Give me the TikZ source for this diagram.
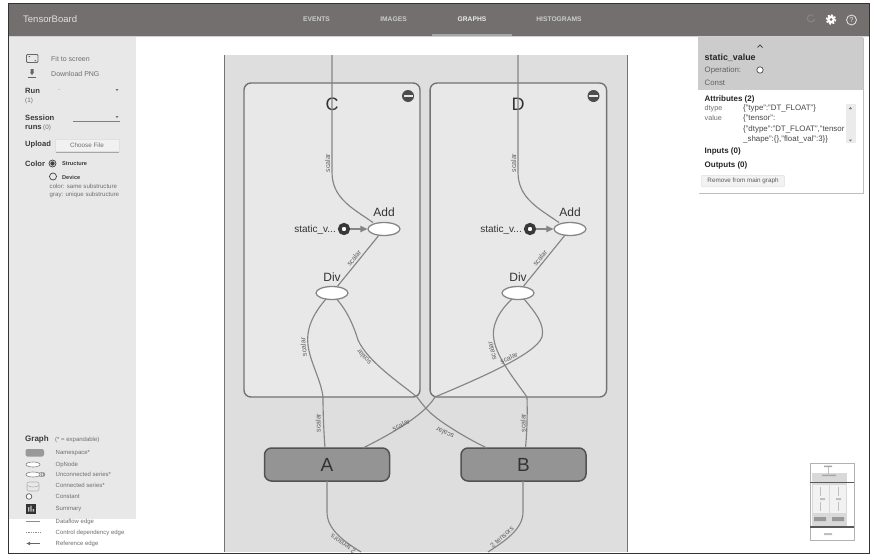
\documentclass[tikz,border=0pt]{standalone}
\usepackage{fontspec}
\setmainfont{Liberation Sans}
\usetikzlibrary{shapes.geometric,arrows.meta}
\newcommand{\fsz}[1]{\fontsize{#1}{#1}\selectfont}
\definecolor{hdr}{HTML}{736F6F}
\definecolor{side}{HTML}{E8E8E8}
\definecolor{col}{HTML}{DEDEDE}
\definecolor{boxf}{HTML}{E8E8E8}
\definecolor{boxl}{HTML}{737373}
\definecolor{edgec}{HTML}{858585}
\definecolor{nsf}{HTML}{949494}
\definecolor{tx}{HTML}{3A3A3A}
\definecolor{tl}{HTML}{6E6E6E}
\tikzset{
  txt/.style={inner sep=0pt,text=tl,font=\fsz{7}},
  ltxt/.style={txt,anchor=west},
  head/.style={inner sep=0pt,anchor=west,text=tx,font=\fsz{7.6}\bfseries},
  tab/.style={inner sep=0pt,text=#1,font=\fsz{6.7}\bfseries},
  group/.style={draw=boxl,line width=1.4pt,fill=boxf,rounded corners=7pt,inner sep=0pt},
  ns/.style={draw=black!68,line width=1.5pt,fill=nsf,rounded corners=7pt,inner sep=0pt,minimum width=125pt,minimum height=33pt,text=black!80,font=\fsz{19}},
  op/.style={ellipse,draw=edgec,line width=1.3pt,fill=white,inner sep=0pt,minimum width=32pt,minimum height=13pt},
  const/.style={circle,draw=black!78,line width=3.6pt,fill=white,inner sep=0pt,minimum size=8.5pt},
  edge/.style={draw=edgec,line width=1.15pt},
  elab/.style={inner sep=0pt,text=black!62,font=\fsz{7}},
  gname/.style={inner sep=0pt,text=black!80,font=\fsz{18}},
  oname/.style={inner sep=0pt,text=black!80,font=\fsz{12}},
  minus/.style={circle,fill=black!70,inner sep=0pt,minimum size=12pt}
}
\begin{document}
\begin{tikzpicture}[x=1pt,y=-1pt]
\useasboundingbox (0,0) rectangle (879,557);
\fill[white] (0,0) rectangle (879,557);
% graph column
\fill[col] (224,55) rectangle (627,552);
\draw[black!55,line width=.8pt] (224,55) -- (224,552) (627,55) -- (627,552);
% sidebar and header
\fill[side] (9,36) rectangle (136,519);
\fill[hdr] (9,4) rectangle (869,36);
\fill[black!18] (9,36) rectangle (869,37);
\fill[black!35] (432,34) rectangle (512,35.5);
\node[inner sep=0pt,anchor=west,text=white!88!black,font=\fsz{9.5}] (tb) at (23,19) {TensorBoard};
\node[tab=white!80!black] (t1) at (316.5,19) {EVENTS};
\node[tab=white!80!black] (t2) at (393.5,19) {IMAGES};
\node[tab=white!92!black] (t3) at (472,19) {GRAPHS};
\node[tab=white!80!black] (t4) at (559,19) {HISTOGRAMS};
% header icons
\draw[hdr!85!white,line width=1pt] (814.5,19) arc (10:310:3.6);
\fill[white] (831,19.5) circle (3.9);
\draw[white,line width=1.5pt,dash pattern=on 1.9pt off 1.65pt] (831,19.5) circle (4.6);
\fill[hdr] (831,19.5) circle (1.5);
\node[circle,draw=white!90!black,line width=.8pt,inner sep=0pt,minimum size=10pt,text=white!90!black,font=\fsz{7}] (help) at (851.5,20) {?};
% sidebar
\draw[black!60,line width=.8pt,rounded corners=1pt] (26.5,54.5) rectangle (38,62.5);
\fill[black!60] (28.5,56) rectangle (30,57) (34.5,60) rectangle (36,61);
\fill[black!60] (30.5,69) rectangle (33.5,72.5) (30,72.5) -- (32,75) -- (34,72.5) -- cycle;
\fill[black!60] (28,76.5) rectangle (36,77.5);
\node[ltxt] (s1) at (51,58.5) {Fit to screen};
\node[ltxt] (s2) at (51,73.5) {Download PNG};
\node[head] (run) at (25,90.5) {Run};
\node[ltxt,font=\fsz{6.3}] (run1) at (25,100.5) {(1)};
\node[ltxt] (dot) at (58,90) {.};
\fill[black!55] (115.5,89) -- (118.5,89) -- (117,91) -- cycle;
\node[head] (ses) at (25,117.5) {Session};
\node[head] (rns) at (25,127.5) {runs};
\node[ltxt,font=\fsz{6.3}] (rn0) at (43,128) {(0)};
\fill[black!55] (115.5,116) -- (118.5,116) -- (117,118) -- cycle;
\draw[black!50,line width=.8pt] (73,121.5) -- (120,121.5);
\node[head] (upl) at (25,145) {Upload};
\node[draw=black!12,fill=side!60!white,line width=.6pt,minimum width=64pt,minimum height=12pt,inner sep=0pt,text=tl,font=\fsz{6.3}] (cf) at (87,145.5) {Choose File};
\draw[black!35] (55.5,151.8) -- (119,151.8);
\node[head] (colr) at (25,163.5) {Color};
\node[circle,draw=black!75,line width=.7pt,minimum size=7pt,inner sep=0pt] (r1) at (52.5,163.5) {};
\fill[black!75] (r1) circle (2.2);
\node[inner sep=0pt,anchor=west,text=tx,font=\fsz{5.6}\bfseries] (r1t) at (62,164) {Structure};
\node[circle,draw=black!75,line width=.7pt,minimum size=7pt,inner sep=0pt] (r2) at (53,176.5) {};
\node[inner sep=0pt,anchor=west,text=tx,font=\fsz{5.6}\bfseries] (r2t) at (62,177) {Device};
\node[ltxt,font=\fsz{6.1}] (c1) at (49.5,186.5) {color: same substructure};
\node[ltxt,font=\fsz{6.1}] (c2) at (49.5,194.5) {gray: unique substructure};
% legend
\node[head,font=\fsz{8}\bfseries] (lg) at (25,439) {Graph};
\node[ltxt,font=\fsz{6}] (lg1) at (55,439.5) {(* = expandable)};
\node[ltxt,font=\fsz{6}] (l1) at (55.5,453.5) {Namespace*};
\node[ltxt,font=\fsz{6}] (l2) at (55.5,464.5) {OpNode};
\node[ltxt,font=\fsz{6}] (l3) at (55.5,474.5) {Unconnected series*};
\node[ltxt,font=\fsz{6}] (l4) at (55.5,485.5) {Connected series*};
\node[ltxt,font=\fsz{6}] (l5) at (55.5,496.5) {Constant};
\node[ltxt,font=\fsz{6}] (l6) at (55.5,509) {Summary};
\node[ltxt,font=\fsz{6}] (l7) at (55.5,521.5) {Dataflow edge};
\node[ltxt,font=\fsz{6}] (l8) at (55.5,532.5) {Control dependency edge};
\node[ltxt,font=\fsz{6}] (l9) at (55.5,543.5) {Reference edge};
\fill[black!40,rounded corners=2pt] (25.5,449) rectangle (44,456.5);
\draw[black!50,line width=.6pt,fill=white] (33,464.5) ellipse (7 and 2.5);
\draw[black!45,line width=.6pt] (41,474.5) ellipse (3 and 2) (43,474.5) ellipse (1.8 and 2);
\draw[black!50,line width=.6pt,fill=white] (33,474.5) ellipse (7 and 2.5);
\draw[black!30,line width=.6pt,rounded corners=2pt,fill=side] (27,482) rectangle (39,491);
\draw[black!30,line width=.6pt] (27,485.5) .. controls (30,487.5) and (36,487.5) .. (39,485.5);
\draw[black!65,line width=.7pt,fill=white] (29,496.5) circle (2.8);
\fill[black!80] (26,504) rectangle (36,514);
\fill[white!75!black] (28,511.5) rectangle (29.3,507) (30.3,511.5) rectangle (31.6,505.5) (32.6,511.5) rectangle (34,509);
\draw[black!45,line width=.7pt] (26,521.7) -- (40,521.7);
\draw[black!45,line width=.7pt,densely dotted] (26,532.5) -- (40,532.5);
\draw[black!60,line width=.7pt,-{Latex[length=4pt,width=3.5pt]}] (40,543.5) -- (26,543.5);
% groups
\node[group,minimum width=176pt,minimum height=314pt] (C) at (332,240) {};
\node[group,minimum width=176.5pt,minimum height=314pt] (D) at (518.3,240) {};
\node[gname] (Cl) at (332,104) {C};
\node[gname] (Dl) at (518,104) {D};
\node[minus] (Cm) at (408,96) {};
\fill[boxf] (403.5,95) rectangle (412.5,97);
\node[minus] (Dm) at (593.5,96) {};
\fill[boxf] (589,95) rectangle (598,97);
% ops
\node[op] (addC) at (384,229) {};
\node[op] (divC) at (332,293) {};
\node[op] (addD) at (570,229) {};
\node[op] (divD) at (518,293) {};
\node[oname] (addCl) at (384,212) {Add};
\node[oname] (divCl) at (332,277) {Div};
\node[oname] (addDl) at (570,212) {Add};
\node[oname] (divDl) at (518,277) {Div};
\node[const] (sC) at (344,229) {};
\node[const] (sD) at (530,229) {};
\node[inner sep=0pt,anchor=east,text=black!80,font=\fsz{10}] (sCl) at (336,229.5) {static\_v...};
\node[inner sep=0pt,anchor=east,text=black!80,font=\fsz{10}] (sDl) at (522,229.5) {static\_v...};
% name spaces
\node[ns] (A) at (327,464.5) {A};
\node[ns] (B) at (523.5,464.5) {B};
% free ends
\coordinate (topC) at (332,55);
\coordinate (topD) at (518,55);
\coordinate (botA) at (361,552);
\coordinate (botB) at (488,552);
\coordinate (bl) at (327,481);
\coordinate (br) at (523,481);
% edges
\begin{scope}[edge]
\draw (topC) -- (332,172) .. controls (332,198) and (352,208) .. (373,222.5);
\draw (topD) -- (518,172) .. controls (518,198) and (538,208) .. (559,222.5);
\draw[-{Triangle[length=7pt,width=6.5pt]}] (sC) -- (addC);
\draw[-{Triangle[length=7pt,width=6.5pt]}] (sD) -- (addD);
\draw (addC) -- (divC);
\draw (addD) -- (divD);
\draw (326,299) .. controls (312,315) and (306,330) .. (308,345) .. controls (310,362) and (321,380) .. (323,397) .. controls (323,415) and (324,435) .. (325,448);
\draw (337,299.5) .. controls (348,312) and (354,327) .. (358,340) .. controls (368,362) and (400,383) .. (417,397) .. controls (425,408) and (430,413) .. (438,419) .. controls (450,428) and (470,440) .. (487,448);
\draw (512,299) .. controls (498,312) and (491,327) .. (494,340) .. controls (497,358) and (515,380) .. (527,397) .. controls (527.5,415) and (527,432) .. (525.5,448);
\draw (524,299) .. controls (535,312) and (545,324) .. (542,337) .. controls (536,354) and (480,378) .. (435,397) .. controls (425,414) and (395,432) .. (363,448);
\draw (bl) -- (327,512) .. controls (327,530) and (345,542) .. (botA);
\draw (br) -- (523,512) .. controls (523,530) and (503,542) .. (botB);
\end{scope}
% edge labels
\node[elab,rotate=90] (e1) at (327.5,163) {scalar};
\node[elab,rotate=90] (e2) at (513.5,163) {scalar};
\node[elab,rotate=52] (e3) at (354,258) {scalar};
\node[elab,rotate=52] (e4) at (540,258) {scalar};
\node[elab,rotate=95] (e5) at (303.5,347) {scalar};
\node[elab,rotate=130] (e6) at (364,357) {scalar};
\node[elab,rotate=104] (e7) at (492,351) {scalar};
\node[elab,rotate=25] (e8) at (509,358) {scalar};
\node[elab,rotate=90] (e9) at (318,423) {scalar};
\node[elab,rotate=25] (e10) at (401,425) {scalar};
\node[elab,rotate=155] (e11) at (445,433) {scalar};
\node[elab,rotate=90] (e12) at (523,423) {scalar};
\node[elab,rotate=42] (e13) at (502,537) {2 tensors};
\begin{scope}
\clip (224,500) rectangle (627,552);
\node[elab,rotate=145] (e14) at (343,544) {2 tensors};
\end{scope}
% info card
\fill[black!25] (698.8,38) rectangle (864,194.3);
\fill[white] (698,37) rectangle (863,193);
\fill[black!20] (698,37) rectangle (863,90);
\draw[black!70,line width=.8pt] (757.5,47.5) -- (760,45) -- (762.5,47.5);
\node[inner sep=0pt,anchor=west,text=black!85,font=\fsz{8.9}\bfseries] (i1) at (704.5,58) {static\_value};
\node[inner sep=0pt,anchor=west,text=black!62,font=\fsz{7.8}] (i2) at (704.5,70.5) {Operation:};
\draw[black!70,line width=.7pt,fill=white] (760,70) circle (3.2);
\node[inner sep=0pt,anchor=west,text=black!62,font=\fsz{7.8}] (i3) at (704.5,82.5) {Const};
\node[inner sep=0pt,anchor=west,text=black!85,font=\fsz{8}\bfseries] (i4) at (704.5,99) {Attributes (2)};
\node[ltxt,font=\fsz{7.2}] (i5) at (704.5,108.5) {dtype};
\node[ltxt,font=\fsz{7.2}] (i6) at (704.5,118) {value};
\fill[black!8] (846,104) rectangle (855.5,143);
\begin{scope}[every node/.style={inner sep=0pt,anchor=west,text=black!72,font=\fsz{7.9}}]
\node (v1) at (743,108.5) {\{"type":"DT\_FLOAT"\}};
\node (v2) at (743,118.5) {\{"tensor":};
\node (v3) at (743,129) {\{"dtype":"DT\_FLOAT","tensor};
\node (v4) at (743,139) {\_shape":\{\},"float\_val":3\}\}};
\end{scope}
\fill[black!55] (848.8,109) -- (852,109) -- (850.4,107) -- cycle;
\fill[black!55] (848.8,139.5) -- (852,139.5) -- (850.4,141.5) -- cycle;
\node[inner sep=0pt,anchor=west,text=black!85,font=\fsz{8}\bfseries] (i7) at (704.5,151.5) {Inputs (0)};
\node[inner sep=0pt,anchor=west,text=black!85,font=\fsz{8}\bfseries] (i8) at (704.5,165.5) {Outputs (0)};
\node[fill=black!5,draw=black!12,line width=.5pt,rounded corners=1pt,minimum width=83pt,minimum height=11.5pt,inner sep=0pt,text=black!65,font=\fsz{6.3}] (i9) at (743,181) {Remove from main graph};
% minimap
\draw[black!30,line width=.7pt,fill=white] (810,463) rectangle (854,540);
\fill[black!15] (812,473) rectangle (847,527);
\fill[black!5] (812.5,485) rectangle (828.5,513);
\fill[black!5] (830,485) rectangle (846,513);
\fill[black!40] (814,517) rectangle (826,521) (832,517) rectangle (844,521);
\fill[black!35] (824,465.5) rectangle (832,467) (822,474.5) rectangle (836,476);
\fill[black!25] (820,498) rectangle (825,500) (836,498) rectangle (841,500) (824,533) rectangle (832,535);
\draw[black!25,line width=.4pt] (828,467) -- (828,474) (820,487) -- (820,496) (838,487) -- (838,496) (820,502) -- (820,511) (838,502) -- (838,511);
\draw[black!65,line width=1.2pt] (810,482.5) -- (854,482.5) (810,527) -- (854,527);
% outer frame
\draw[black!80,line width=1pt] (8.5,3.5) rectangle (869.5,553);
\end{tikzpicture}
\end{document}
